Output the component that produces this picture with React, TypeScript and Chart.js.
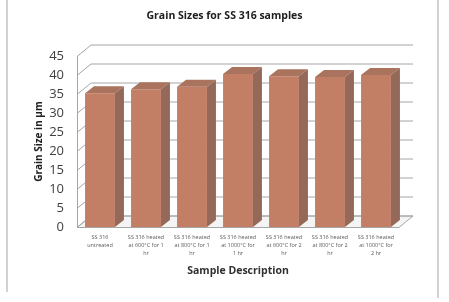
import { useEffect, useRef } from 'react';
import { Chart, registerables } from 'chart.js';

Chart.register(...registerables);

const chartTitle = 'Grain Sizes for SS 316 samples';
const yAxisTitle = 'Grain Size in µm';
const xAxisTitle = 'Sample Description';

const categories: string[][] = [
  ['SS 316', 'untreated'],
  ['SS 316 heated', 'at 600°C for 1', 'hr'],
  ['SS 316 heated', 'at 800°C for 1', 'hr'],
  ['SS 316 heated', 'at 1000°C for', '1 hr'],
  ['SS 316 heated', 'at 600°C for 2', 'hr'],
  ['SS 316 heated', 'at 800°C for 2', 'hr'],
  ['SS 316 heated', 'at 1000°C for', '2 hr'],
];

const grainSizes: number[] = [35.2, 36.3, 36.9, 40.3, 39.7, 39.5, 40.0];

const yMin = 0;
const yMax = 45;
const yStep = 5;

// 3D look parameters (pixels)
const WALL_DX = 14;
const WALL_DY = -11.5;
const BAR_DX = 9;
const BAR_DY = -7;

const FRONT_COLOR = '#c27f66';
const TOP_COLOR = '#a9735e';
const SIDE_COLOR = '#94695a';
const GRID_COLOR = '#a6a6a6';

const depthPlugin = {
  id: 'depth3d',
  beforeDraw(chart: any) {
    const ctx = chart.ctx;
    ctx.save();
    ctx.strokeStyle = '#d2d2d2';
    ctx.lineWidth = 2;
    ctx.beginPath();
    ctx.moveTo(7, 0);
    ctx.lineTo(7, 292);
    ctx.moveTo(438, 0);
    ctx.lineTo(438, 298);
    ctx.stroke();
    ctx.restore();
  },
  beforeDatasetsDraw(chart: any) {
    const ctx = chart.ctx;
    const { left, right, top, bottom } = chart.chartArea;
    const ys = chart.scales.y;
    ctx.save();
    ctx.lineWidth = 1;
    ctx.strokeStyle = GRID_COLOR;
    // floor
    ctx.fillStyle = '#f4f4f4';
    ctx.beginPath();
    ctx.moveTo(left, bottom + 0.5);
    ctx.lineTo(right, bottom + 0.5);
    ctx.lineTo(right + WALL_DX, bottom + WALL_DY + 0.5);
    ctx.lineTo(left + WALL_DX, bottom + WALL_DY + 0.5);
    ctx.closePath();
    ctx.fill();
    ctx.stroke();
    // gridlines on side wall and back wall
    ys.ticks.forEach((t: any) => {
      const y = Math.round(ys.getPixelForValue(t.value)) + 0.5;
      ctx.beginPath();
      ctx.moveTo(left, y);
      ctx.lineTo(left + WALL_DX, y + WALL_DY);
      ctx.lineTo(right + WALL_DX, y + WALL_DY);
      ctx.stroke();
    });
    // front left edge
    ctx.beginPath();
    ctx.moveTo(left + 0.5, top);
    ctx.lineTo(left + 0.5, bottom);
    ctx.stroke();
    ctx.restore();
  },
  afterDatasetsDraw(chart: any) {
    const ctx = chart.ctx;
    const meta = chart.getDatasetMeta(0);
    ctx.save();
    meta.data.forEach((bar: any) => {
      const { x, y, base, width } = bar.getProps(['x', 'y', 'base', 'width'], true);
      const l = x - width / 2;
      const r = x + width / 2;
      ctx.fillStyle = TOP_COLOR;
      ctx.beginPath();
      ctx.moveTo(l, y);
      ctx.lineTo(l + BAR_DX, y + BAR_DY);
      ctx.lineTo(r + BAR_DX, y + BAR_DY);
      ctx.lineTo(r, y);
      ctx.closePath();
      ctx.fill();
      ctx.fillStyle = SIDE_COLOR;
      ctx.beginPath();
      ctx.moveTo(r, y);
      ctx.lineTo(r + BAR_DX, y + BAR_DY);
      ctx.lineTo(r + BAR_DX, base + BAR_DY);
      ctx.lineTo(r, base);
      ctx.closePath();
      ctx.fill();
    });
    ctx.restore();
  },
};

export default function App() {
  const ref = useRef<HTMLCanvasElement | null>(null);
  useEffect(() => {
    if (!ref.current) return;
    const chart = new Chart(ref.current, {
      type: 'bar',
      data: {
        labels: categories,
        datasets: [
          {
            label: 'Grain Size',
            data: grainSizes,
            backgroundColor: FRONT_COLOR,
            borderWidth: 0,
            barPercentage: 0.65,
            categoryPercentage: 1,
          },
        ],
      },
      options: {
        animation: false,
        responsive: false,
        events: [],
        layout: { padding: 0 },
        plugins: {
          legend: { display: false },
          tooltip: { enabled: false },
          title: {
            display: true,
            text: chartTitle,
            color: '#202020',
            font: { family: 'Open Sans', size: 10.5, weight: 'bold', lineHeight: 1.2 },
            padding: { top: 9.5, bottom: 34 },
          },
        },
        scales: {
          x: {
            grid: { display: false, drawTicks: false },
            border: { display: false },
            ticks: {
              color: '#595959',
              font: { family: 'Open Sans', size: 5.5, lineHeight: 1.5 },
              padding: 6,
              maxRotation: 0,
              autoSkip: false,
            },
            title: {
              display: true,
              text: xAxisTitle,
              color: '#303030',
              font: { family: 'Open Sans', size: 10.5, weight: 'bold', lineHeight: 1.2 },
              padding: { top: 0, bottom: 25 },
            },
            afterFit(scale: any) {
              scale.height = 75;
            },
          },
          y: {
            min: yMin,
            max: yMax,
            grid: { display: false, drawTicks: false },
            border: { display: false },
            ticks: {
              stepSize: yStep,
              color: '#404040',
              font: { family: 'Open Sans', size: 13 },
              padding: 13,
            },
            title: {
              display: true,
              text: yAxisTitle,
              color: '#202020',
              font: { family: 'Open Sans', size: 10, weight: 'bold', lineHeight: 1.2 },
              padding: { top: 33, bottom: 0 },
            },
            afterFit(scale: any) {
              scale.width = 77;
            },
          },
          // empty right-hand margin box (keeps the back wall room and centres the title)
          yRight: {
            type: 'linear',
            position: 'right',
            display: true,
            min: yMin,
            max: yMax,
            grid: { display: false, drawTicks: false },
            border: { display: false },
            ticks: { display: false },
            afterFit(scale: any) {
              scale.width = 50;
            },
          },
        },
      },
      plugins: [depthPlugin],
    });
    return () => chart.destroy();
  }, []);
  return (
    <div style={{ position: 'absolute', left: 0, top: 0, width: 449, height: 302, background: '#fff' }}>
      <canvas ref={ref} width={449} height={302} />
    </div>
  );
}
